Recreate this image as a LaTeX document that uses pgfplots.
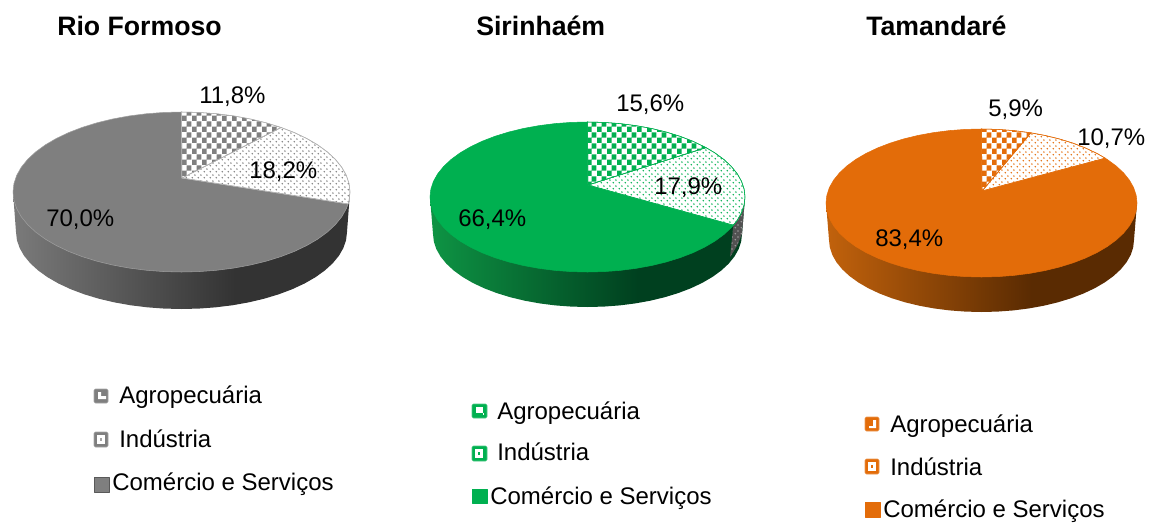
\documentclass[border=0pt]{standalone}
\usepackage{fontspec}
\setmainfont{Liberation Sans}
\usepackage{pgfplots}
\pgfplotsset{compat=1.18}
\usetikzlibrary{patterns}
\pgfdeclarepatternformonly{bigcheck}{\pgfqpoint{0pt}{0pt}}{\pgfqpoint{7.6pt}{8.4pt}}{\pgfqpoint{7.6pt}{8.4pt}}{%
  \pgfpathrectangle{\pgfqpoint{0pt}{0pt}}{\pgfqpoint{3.8pt}{4.2pt}}%
  \pgfpathrectangle{\pgfqpoint{3.8pt}{4.2pt}}{\pgfqpoint{3.8pt}{4.2pt}}%
  \pgfusepath{fill}}
\pgfdeclarepatternformonly{stipple}{\pgfqpoint{0pt}{0pt}}{\pgfqpoint{4.2pt}{4.2pt}}{\pgfqpoint{4.2pt}{4.2pt}}{%
  \pgfpathcircle{\pgfqpoint{1.05pt}{1.05pt}}{0.66pt}%
  \pgfpathcircle{\pgfqpoint{3.15pt}{3.15pt}}{0.66pt}%
  \pgfusepath{fill}}
\definecolor{cA}{HTML}{7F7F7F}
\definecolor{cB}{HTML}{00B050}
\definecolor{cC}{HTML}{E36C09}
\pgfdeclarehorizontalshading{wallA}{100bp}{color(0bp)=(black!52!white);color(25bp)=(black!52!white);color(58bp)=(black!80!white);color(100bp)=(black!80!white)}
\definecolor{bL}{HTML}{0E9444}\definecolor{bD}{HTML}{00401F}
\definecolor{oL}{HTML}{C2620C}\definecolor{oD}{HTML}{5A2B02}
\pgfdeclarehorizontalshading{wallB}{100bp}{color(0bp)=(bL);color(25bp)=(bL);color(58bp)=(bD);color(100bp)=(bD)}
\pgfdeclarehorizontalshading{wallC}{100bp}{color(0bp)=(oL);color(25bp)=(oL);color(58bp)=(oD);color(100bp)=(oD)}
% #1 style, #2 cx, #3 cy, #4 rx, #5 ry, #6 angles of the rim, #7 closing path
\newcommand{\rim}[7]{\addplot[#1] table[row sep=\\,
   x expr={#2+#4*cos(\thisrow{t})}, y expr={#3-#5*sin(\thisrow{t})}] {t\\ #6} #7;}
\newcommand{\txt}[4]{\node[anchor=base west,inner sep=0pt,font=\fontsize{#1}{#1}\selectfont] at (axis cs:#2,#3) {#4};}
\begin{document}
\begin{tikzpicture}
\begin{axis}[scale only axis,width=867pt,height=390pt,xmin=0,xmax=1156,ymin=0,ymax=520,
  y dir=reverse,axis lines=none,clip=false,no markers,
  every axis plot post/.append style={line join=round}]
\path (axis cs:0,0) rectangle (axis cs:1156,520);
%%% Rio Formoso
\rim{draw=none,shading=wallA,shading angle=0}{181.5}{232}{165.5}{77}{180\\186\\192\\198\\204\\210\\216\\222\\228\\234\\240\\246\\252\\258\\264\\270\\276\\282\\288\\294\\300\\306\\312\\318\\324\\330\\336\\342\\348\\354\\360\\}{-- (axis cs:350,192) -- (axis cs:13,192) -- cycle}
\rim{fill=cA,draw=black!38,line width=0.4pt}{181.5}{192}{168.5}{80}{90\\96\\102\\108\\114\\120\\126\\132\\138\\144\\150\\156\\162\\168\\174\\180\\186\\192\\198\\204\\210\\216\\222\\228\\234\\240\\246\\252\\258\\264\\270\\276\\282\\288\\294\\300\\306\\312\\318\\324\\330\\336\\342\\348\\351.4\\}{-- (axis cs:182,178) -- cycle}
\rim{fill=white,draw=cA!60,line width=0.4pt,postaction={pattern=stipple,pattern color=cA}}{181.5}{192}{168.5}{80}{-8.6\\-6\\0\\6\\12\\18\\24\\30\\36\\42\\48\\53.8\\}{-- (axis cs:182,178) -- cycle}
\rim{fill=white,draw=cA!60,line width=0.4pt,postaction={pattern=bigcheck,pattern color=cA}}{181.5}{192}{168.5}{80}{53.8\\60\\66\\72\\78\\84\\90\\}{-- (axis cs:182,178) -- cycle}
%%% Sirinhaem
\rim{draw=none,shading=wallB,shading angle=0}{587.5}{234}{154.5}{73}{180\\186\\192\\198\\204\\210\\216\\222\\228\\234\\240\\246\\252\\258\\264\\270\\276\\282\\288\\294\\300\\306\\312\\318\\324\\330\\336\\342\\348\\354\\360\\}{-- (axis cs:745,197) -- (axis cs:430,197) -- cycle}
\rim{fill=black!68,draw=none,postaction={pattern=stipple,pattern color=black!40}}{587.5}{197}{157.5}{75}{-22.1\\-18\\-12\\-6\\0\\}{-- (axis cs:742,234) -- (axis cs:737,246) -- (axis cs:730,257) -- cycle}
\rim{fill=cB,draw=cB,line width=0.4pt}{587.5}{197}{157.5}{75}{90\\96\\102\\108\\114\\120\\126\\132\\138\\144\\150\\156\\162\\168\\174\\180\\186\\192\\198\\204\\210\\216\\222\\228\\234\\240\\246\\252\\258\\264\\270\\276\\282\\288\\294\\300\\306\\312\\318\\324\\330\\336\\337.9\\}{-- (axis cs:588,185) -- cycle}
\rim{fill=white,draw=cB,line width=0.4pt,postaction={pattern=stipple,pattern color=cB}}{587.5}{197}{157.5}{75}{-22.1\\-18\\-12\\-6\\0\\6\\12\\18\\24\\30\\36\\41.2\\}{-- (axis cs:588,185) -- cycle}
\rim{fill=white,draw=cB,line width=0.4pt,postaction={pattern=bigcheck,pattern color=cB}}{587.5}{197}{157.5}{75}{41.2\\48\\54\\60\\66\\72\\78\\84\\90\\}{-- (axis cs:588,185) -- cycle}
%%% Tamandare
\rim{draw=none,shading=wallC,shading angle=0}{981.5}{240}{152.5}{72}{180\\186\\192\\198\\204\\210\\216\\222\\228\\234\\240\\246\\252\\258\\264\\270\\276\\282\\288\\294\\300\\306\\312\\318\\324\\330\\336\\342\\348\\354\\360\\}{-- (axis cs:1137,203) -- (axis cs:826,203) -- cycle}
\rim{fill=cC,draw=cC,line width=0.4pt}{981.5}{203}{155.5}{74}{90\\96\\102\\108\\114\\120\\126\\132\\138\\144\\150\\156\\162\\168\\174\\180\\186\\192\\198\\204\\210\\216\\222\\228\\234\\240\\246\\252\\258\\264\\270\\276\\282\\288\\294\\300\\306\\312\\318\\324\\330\\336\\342\\348\\354\\360\\366\\372\\378\\384\\390\\396\\397.3\\}{-- (axis cs:982,191) -- cycle}
\rim{fill=white,draw=cC,line width=0.4pt,postaction={pattern=stipple,pattern color=cC}}{981.5}{203}{155.5}{74}{37.3\\42\\48\\54\\60\\66\\71.5\\}{-- (axis cs:982,191) -- cycle}
\rim{fill=white,draw=cC,line width=0.4pt,postaction={pattern=bigcheck,pattern color=cC}}{981.5}{203}{155.5}{74}{71.5\\78\\84\\90\\}{-- (axis cs:982,191) -- cycle}
%%% legend swatches
% Rio Formoso
\addplot[fill=cA,draw=black!35,rounded corners=1pt] coordinates {(94,389)(108,389)(108,403)(94,403)} -- cycle;
\addplot[fill=white,draw=none] coordinates {(98,392)(101,392)(101,396)(106,396)(106,399)(98,399)} -- cycle;
\addplot[fill=cA,draw=black!35,rounded corners=1pt] coordinates {(94,432)(108,432)(108,447)(94,447)} -- cycle;
\addplot[fill=white,draw=none] coordinates {(97,435)(105,435)(105,444)(97,444)} -- cycle;
\addplot[fill=cA!70,draw=none] coordinates {(100,438)(102,438)(102,441)(100,441)} -- cycle;
\addplot[fill=cA,draw=black!65,line width=0.6pt] coordinates {(94,477)(109,477)(109,492)(94,492)} -- cycle;
% Sirinhaem
\addplot[fill=cB,draw=cB!70,rounded corners=1pt] coordinates {(472,404)(487,404)(487,418)(472,418)} -- cycle;
\addplot[fill=white,draw=none] coordinates {(476,407)(483,407)(483,413)(476,413)} -- cycle;
\addplot[fill=white,draw=none] coordinates {(483,413)(484,413)(484,415)(483,415)} -- cycle;
\addplot[fill=cB,draw=cB!70,rounded corners=1pt] coordinates {(472,446)(487,446)(487,461)(472,461)} -- cycle;
\addplot[fill=white,draw=none] coordinates {(475,449)(483,449)(483,458)(475,458)} -- cycle;
\addplot[fill=cB,draw=none] coordinates {(478,452)(480,452)(480,455)(478,455)} -- cycle;
\addplot[fill=cB,draw=cB] coordinates {(472,489)(487,489)(487,503)(472,503)} -- cycle;
% Tamandare
\addplot[fill=cC,draw=cC!70,rounded corners=1pt] coordinates {(865,417)(879,417)(879,431)(865,431)} -- cycle;
\addplot[fill=white,draw=none] coordinates {(873,420)(876,420)(876,428)(869,428)(869,426)(873,426)} -- cycle;
\addplot[fill=cC,draw=cC!70,rounded corners=1pt] coordinates {(865,459)(879,459)(879,474)(865,474)} -- cycle;
\addplot[fill=white,draw=none] coordinates {(868,462)(876,462)(876,471)(868,471)} -- cycle;
\addplot[fill=cC,draw=none] coordinates {(871,465)(873,465)(873,468)(871,468)} -- cycle;
\addplot[fill=cC,draw=cC] coordinates {(865,502)(880,502)(880,517)(865,517)} -- cycle;
%%% texts
\node[anchor=base west,inner sep=0pt,font=\bfseries\fontsize{20pt}{20pt}\selectfont] at (axis cs:57,36) {Rio Formoso};
\node[anchor=base west,inner sep=0pt,font=\bfseries\fontsize{20pt}{20pt}\selectfont] at (axis cs:476,36) {Sirinhaém};
\node[anchor=base west,inner sep=0pt,font=\bfseries\fontsize{20pt}{20pt}\selectfont] at (axis cs:866,36) {Tamandaré};
\txt{18pt}{199}{104}{11,8\%}
\txt{18pt}{249}{179}{18,2\%}
\txt{18pt}{46}{226}{70,0\%}
\txt{18pt}{616}{112}{15,6\%}
\txt{18pt}{654}{195}{17,9\%}
\txt{18pt}{458}{226}{66,4\%}
\txt{18pt}{988}{117}{5,9\%}
\txt{18pt}{1077}{146}{10,7\%}
\txt{18pt}{875}{246}{83,4\%}
\txt{18pt}{119}{403}{Agropecuária}
\txt{18pt}{119}{447}{Indústria}
\txt{18pt}{112}{490}{Comércio e Serviços}
\txt{18pt}{497}{419}{Agropecuária}
\txt{18pt}{497}{460}{Indústria}
\txt{18pt}{490}{504}{Comércio e Serviços}
\txt{18pt}{890}{432}{Agropecuária}
\txt{18pt}{890}{475}{Indústria}
\txt{18pt}{883}{517}{Comércio e Serviços}
\end{axis}
\end{tikzpicture}
\end{document}
